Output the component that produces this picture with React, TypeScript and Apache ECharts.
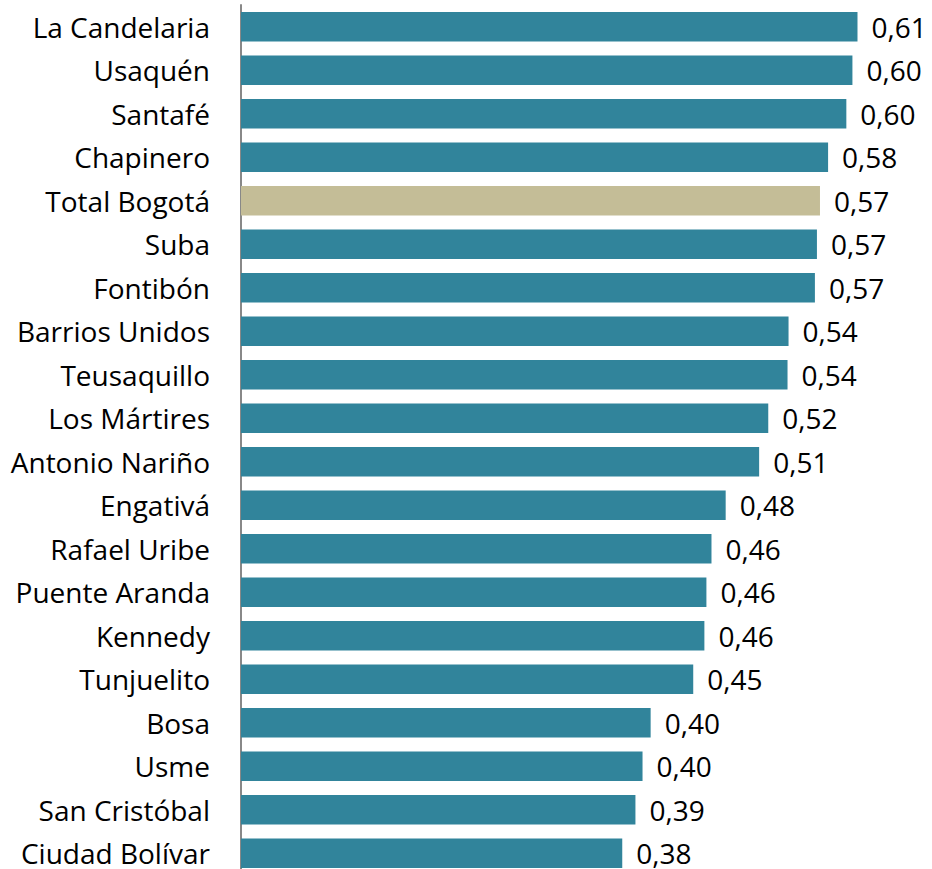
import React, { useEffect, useRef } from "react";
import * as echarts from "echarts";

const categories: string[] = [
  "La Candelaria",
  "Usaquén",
  "Santafé",
  "Chapinero",
  "Total Bogotá",
  "Suba",
  "Fontibón",
  "Barrios Unidos",
  "Teusaquillo",
  "Los Mártires",
  "Antonio Nariño",
  "Engativá",
  "Rafael Uribe",
  "Puente Aranda",
  "Kennedy",
  "Tunjuelito",
  "Bosa",
  "Usme",
  "San Cristóbal",
  "Ciudad Bolívar",
];

const values: number[] = [
  0.608, 0.603, 0.597, 0.579, 0.571, 0.568, 0.566, 0.54, 0.539, 0.52,
  0.511, 0.478, 0.464, 0.459, 0.457, 0.446, 0.404, 0.396, 0.389, 0.376,
];

const highlighted: string[] = ["Total Bogotá"];

const BAR_COLOR = "#31849B";
const HIGHLIGHT_COLOR = "#C4BD97";
const FONT = "'Open Sans', 'Noto Sans', sans-serif";

export default function App() {
  const ref = useRef<HTMLDivElement>(null);

  useEffect(() => {
    if (!ref.current) return;
    const chart = echarts.init(ref.current, undefined, { renderer: "svg" });
    chart.setOption({
      animation: false,
      grid: { left: 241, top: 5, width: 689.5, height: 870, outerBoundsMode: "none" },
      xAxis: {
        type: "value",
        min: 0,
        max: 0.68,
        show: false,
      },
      yAxis: {
        type: "category",
        data: categories,
        inverse: true,
        axisLine: { show: true, lineStyle: { color: "#888888", width: 2 } },
        axisTick: { show: false },
        splitLine: { show: false },
        axisLabel: {
          color: "#000000",
          fontSize: 28,
          lineHeight: 28,
          fontFamily: FONT,
          margin: 31,
        },
      },
      series: [
        {
          type: "bar",
          barCategoryGap: "32.6%",
          data: values.map((v, i) => ({
            value: v,
            itemStyle: {
              color: highlighted.includes(categories[i]) ? HIGHLIGHT_COLOR : BAR_COLOR,
            },
          })),
          label: {
            show: true,
            position: "right",
            distance: 14,
            color: "#000000",
            fontSize: 28,
            lineHeight: 28,
            fontFamily: FONT,
            formatter: (p: any) => Number(p.value).toFixed(2).replace(".", ","),
          },
        },
      ],
    });
    return () => chart.dispose();
  }, []);

  return (
    <div
      ref={ref}
      style={{ position: "fixed", left: 0, top: 0, width: 932, height: 880, background: "#ffffff" }}
    />
  );
}
